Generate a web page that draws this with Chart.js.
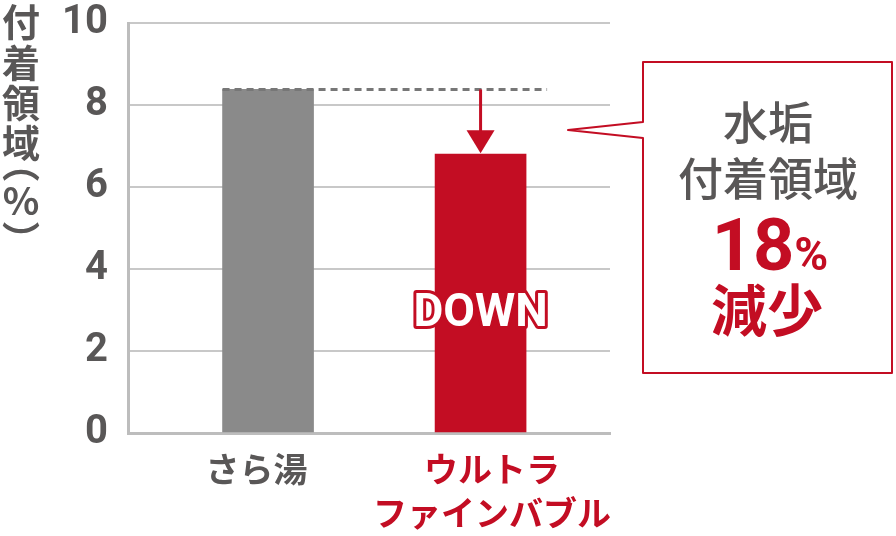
<!DOCTYPE html>
<html><head><meta charset="utf-8">
<script src="https://cdn.jsdelivr.net/npm/chart.js@4.4.1/dist/chart.umd.min.js"></script>
<style>html,body{margin:0;padding:0;background:#fff;} canvas{display:block}</style>
</head><body>
<canvas id="c" width="896" height="536"></canvas>
<script>
const categories = ['さら湯', ['ウルトラ', 'ファインバブル']];
const values = [8.38, 6.8];
const yTicks = [0, 2, 4, 6, 8, 10];
const yTitle = ['付', '着', '領', '域', '︵', '%', '︶'];
const calloutLines = ['水垢', '付着領域'];
const reductionNumber = '18';
const reductionUnit = '%';
const reductionWord = '減少';
const downLabel = 'DOWN';

const GRAY = '#8a8a8a', RED = '#c30d23', TEXT = '#595757';
const JP = '"Noto Sans CJK JP", "Noto Sans", sans-serif';
const NUM = 'Roboto, "Noto Sans", sans-serif';

const annot = {
  id: 'annot',
  afterDraw(chart) {
    const ctx = chart.ctx, y = chart.scales.y, meta = chart.getDatasetMeta(0);
    const b0 = meta.data[0], b1 = meta.data[1];
    const top0 = y.getPixelForValue(values[0]);
    const top1 = y.getPixelForValue(values[1]);
    ctx.save();
    // dashed reference line
    ctx.strokeStyle = '#777'; ctx.lineWidth = 3; ctx.setLineDash([7, 5]);
    ctx.beginPath(); ctx.moveTo(b0.x - b0.width / 2, top0); ctx.lineTo(b1.x + b1.width / 2 + 21, top0); ctx.stroke();
    ctx.setLineDash([]);
    // arrow
    ctx.strokeStyle = RED; ctx.fillStyle = RED; ctx.lineWidth = 3;
    ctx.beginPath(); ctx.moveTo(b1.x, top0); ctx.lineTo(b1.x, top1 - 22); ctx.stroke();
    ctx.beginPath(); ctx.moveTo(b1.x - 14, top1 - 24); ctx.lineTo(b1.x + 14, top1 - 24); ctx.lineTo(b1.x, top1 - 1); ctx.closePath(); ctx.fill();
    // DOWN label
    ctx.font = 'bold 46px ' + NUM; ctx.textAlign = 'center'; ctx.textBaseline = 'alphabetic';
    ctx.lineJoin = 'round'; ctx.lineWidth = 6; ctx.strokeStyle = RED;
    const dy = y.getPixelForValue(3) + 16;
    ctx.strokeText(downLabel, b1.x, dy);
    ctx.fillStyle = '#fff'; ctx.fillText(downLabel, b1.x, dy);
    // y title (vertical)
    ctx.fillStyle = TEXT; ctx.font = 'bold 38px ' + JP; ctx.textBaseline = 'middle';
    const ty = [22, 63, 103, 143, 163, 201, 240];
    yTitle.forEach((ch, i) => ctx.fillText(ch, 21, ty[i]));
    // callout box
    ctx.fillStyle = '#fff'; ctx.strokeStyle = RED; ctx.lineWidth = 2;
    ctx.beginPath();
    ctx.moveTo(643, 62); ctx.lineTo(892, 62); ctx.lineTo(892, 373); ctx.lineTo(643, 373);
    ctx.lineTo(643, 138); ctx.lineTo(568, 130); ctx.lineTo(643, 122); ctx.closePath();
    ctx.fill(); ctx.stroke();
    ctx.fillStyle = TEXT; ctx.font = '500 45px ' + JP; ctx.textAlign = 'center'; ctx.textBaseline = 'middle';
    ctx.fillText(calloutLines[0], 768, 123);
    ctx.fillText(calloutLines[1], 768, 179);
    // 18%
    ctx.fillStyle = RED; ctx.textBaseline = 'alphabetic'; ctx.textAlign = 'left';
    ctx.font = 'bold 72px ' + NUM; const w1 = ctx.measureText(reductionNumber).width;
    ctx.font = 'bold 46px ' + NUM; const w2 = ctx.measureText(reductionUnit).width;
    const sx = 770 - (w1 + w2) / 2;
    ctx.font = 'bold 72px ' + NUM; ctx.fillText(reductionNumber, sx, 270);
    ctx.font = 'bold 46px ' + NUM; ctx.fillText(reductionUnit, sx + w1, 270);
    ctx.font = 'bold 56px ' + JP; ctx.textAlign = 'center'; ctx.textBaseline = 'middle';
    ctx.fillText(reductionWord, 767, 310);
    ctx.restore();
  }
};

new Chart(document.getElementById('c'), {
  type: 'bar',
  data: {
    datasets: [{
      data: values.map((v, i) => ({ x: i + 1, y: v })),
      backgroundColor: values.map((v, i) => i === 0 ? GRAY : RED),
      barThickness: 91,
      xAxisID: 'x', yAxisID: 'y'
    }]
  },
  options: {
    responsive: false, animation: false, devicePixelRatio: 1,
    layout: { padding: { left: 0, right: 286, top: 23, bottom: 0 } },
    plugins: { legend: { display: false }, tooltip: { enabled: false } },
    scales: {
      x: { type: 'linear', min: 0.341, max: 2.609, offset: false, display: false },
      xl: {
        type: 'linear', position: 'bottom', min: 0.454, max: 2.501, offset: false,
        afterBuildTicks: s => { s.ticks = categories.map((c, i) => ({ value: i + 1 })); },
        ticks: {
          callback: (v, i) => categories[i],
          color: c => c.index === 1 ? RED : TEXT,
          font: { family: JP, size: 34, weight: 'bold', lineHeight: 1.3 },
          padding: 14, autoSkip: false, maxRotation: 0
        },
        grid: { display: false, drawTicks: false, offset: false },
        border: { display: true, width: 3, color: '#bdbdbd' },
        afterFit: s => { s.height = 103; s.paddingLeft = 0; s.paddingRight = 0; }
      },
      y: {
        min: 0, max: 10,
        afterBuildTicks: s => { s.ticks = yTicks.map(v => ({ value: v })); },
        ticks: { color: TEXT, font: { family: NUM, size: 40, weight: 'bold' }, padding: 20 },
        grid: { color: '#c8c8c8', lineWidth: 2, drawTicks: false },
        border: { display: true, width: 3, color: '#bdbdbd' },
        afterFit: s => { s.width = 128; s.paddingTop = 0; s.paddingBottom = 0; }
      }
    }
  },
  plugins: [annot]
});
</script>
</body></html>
